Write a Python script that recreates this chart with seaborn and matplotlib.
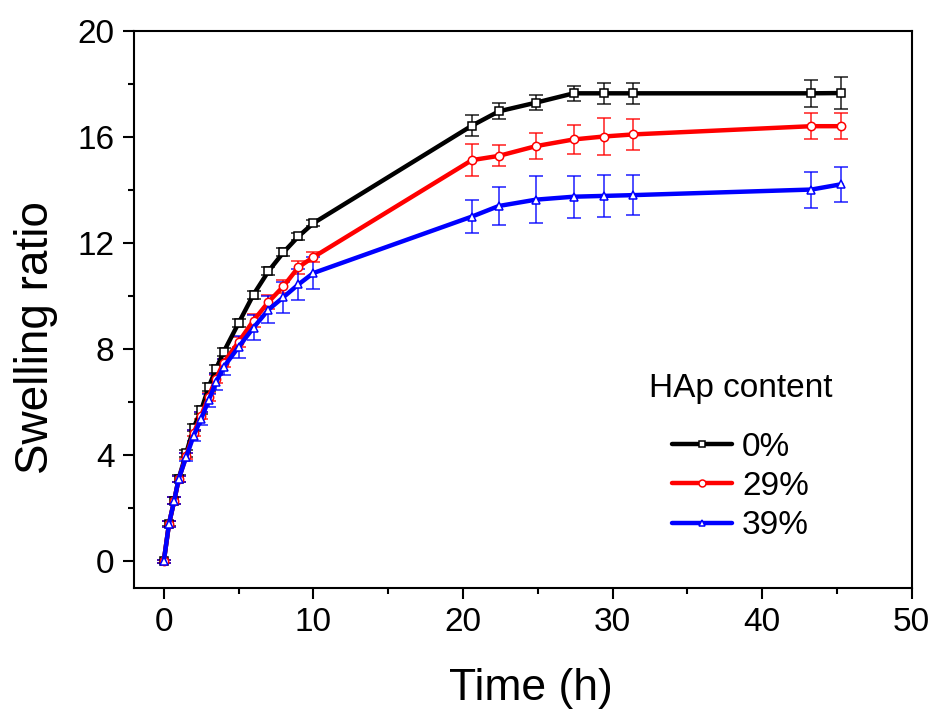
import matplotlib
matplotlib.use("Agg")
import matplotlib.pyplot as plt
from matplotlib.ticker import MultipleLocator
import numpy as np
import pandas as pd
import seaborn as sns

time_h = [0, 0.35, 0.7, 1, 1.5, 2, 2.5, 3, 3.5, 4, 5, 6, 7, 8, 9, 10,
          20.6, 22.4, 24.9, 27.4, 29.4, 31.4, 43.3, 45.3]
ratio_0 = [0, 1.42, 2.3, 3.13, 4.08, 5.05, 5.7, 6.58, 7.27, 7.9, 8.99, 10.07, 10.95, 11.66, 12.26, 12.76,
           16.44, 16.98, 17.31, 17.66, 17.66, 17.66, 17.66, 17.67]
ratio_29 = [0, 1.42, 2.3, 3.1, 3.98, 4.85, 5.5, 6.22, 6.9, 7.5, 8.28, 9.09, 9.79, 10.38, 11.1, 11.48,
            15.14, 15.30, 15.67, 15.92, 16.03, 16.11, 16.42, 16.42]
ratio_39 = [0, 1.42, 2.3, 3.12, 3.94, 4.75, 5.38, 6.08, 6.77, 7.33, 8.09, 8.82, 9.5, 9.97, 10.45, 10.88,
            13.01, 13.41, 13.65, 13.76, 13.79, 13.82, 14.03, 14.23]
err_0 = [0.05, 0.1, 0.12, 0.12, 0.12, 0.12, 0.15, 0.15, 0.15, 0.15, 0.15, 0.15, 0.15, 0.15, 0.12, 0.12,
         0.40, 0.30, 0.29, 0.29, 0.39, 0.40, 0.50, 0.61]
err_29 = [0.05, 0.12, 0.12, 0.12, 0.12, 0.12, 0.12, 0.15, 0.15, 0.15, 0.2, 0.25, 0.25, 0.25, 0.25, 0.2,
          0.59, 0.40, 0.50, 0.55, 0.70, 0.59, 0.49, 0.49]
err_39 = [0.05, 0.12, 0.12, 0.12, 0.15, 0.2, 0.25, 0.25, 0.3, 0.3, 0.41, 0.48, 0.5, 0.58, 0.57, 0.6,
          0.62, 0.70, 0.88, 0.79, 0.79, 0.74, 0.68, 0.66]
labels = ["0%", "29%", "39%"]
colors = ["#000000", "#ff0000", "#0000ff"]
markers = ["s", "o", "^"]

sns.set_theme(style="ticks")
plt.rcParams['font.family'] = ['Liberation Sans', 'DejaVu Sans']
for k in ["text.color", "axes.labelcolor", "xtick.color", "ytick.color", "axes.edgecolor"]:
    plt.rcParams[k] = "black"

fig = plt.figure(figsize=(9.36, 7.11), dpi=100)
ax = fig.add_axes([0.143, 0.173, 0.831, 0.783])

series = [ratio_0, ratio_29, ratio_39]
errs = [err_0, err_29, err_39]
for lab, y, e, c, m in zip(labels, series, errs, colors, markers):
    ax.errorbar(time_h, y, yerr=e, fmt="none", ecolor=c, alpha=0.75,
                elinewidth=1.3, capsize=5, capthick=1.3, zorder=2)
    df = pd.DataFrame({"time": time_h, "ratio": y})
    sns.lineplot(data=df, x="time", y="ratio", ax=ax, color=c, linewidth=3.2,
                 marker=m, markersize=6, markerfacecolor="white",
                 markeredgecolor=c, markeredgewidth=1.1, label=lab, zorder=3)

for ln in ax.get_lines():
    ln.set_linewidth(3.2)

ax.set_xlim(-2, 50)
ax.set_ylim(-1, 20)
ax.xaxis.set_major_locator(MultipleLocator(10))
ax.xaxis.set_minor_locator(MultipleLocator(5))
ax.yaxis.set_major_locator(MultipleLocator(4))
ax.yaxis.set_minor_locator(MultipleLocator(2))
ax.tick_params(which="major", direction="out", length=8, width=1.5, labelsize=24, pad=6)
ax.tick_params(which="minor", direction="out", length=4, width=1.5)
for s in ax.spines.values():
    s.set_linewidth(1.5)
    s.set_color("black")
ax.set_xlabel("Time (h)", fontsize=32, labelpad=21)
ax.set_ylabel("Swelling ratio", fontsize=33, labelpad=14)
ax.xaxis.label.set_x(0.51)
ax.yaxis.label.set_y(0.45)

leg = ax.legend(title="HAp content", frameon=False, loc="center",
                bbox_to_anchor=(0.78, 0.235), fontsize=24, title_fontsize=24,
                handlelength=1.8, handletextpad=0.3, labelspacing=0.25, numpoints=1)
leg._legend_box.align = "center"
leg._legend_box.sep = 20
for ln in leg.get_lines():
    ln.set_linewidth(3.2)
    ln.set_markersize(5)

fig.savefig("out.png", dpi=100)
